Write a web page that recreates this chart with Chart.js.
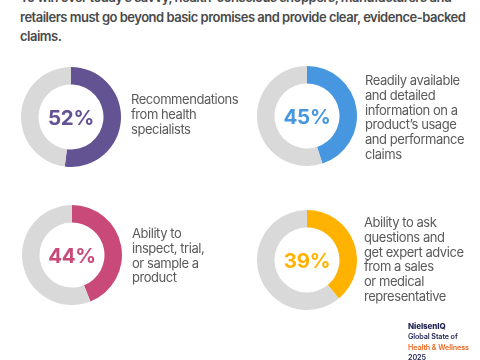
<!DOCTYPE html>
<html lang="en">
<head>
    <meta charset="UTF-8">
    <title>Health claims donuts</title>
    <script src="https://cdn.jsdelivr.net/npm/chart.js"></script>
    <style>
        * { box-sizing: border-box; margin: 0; padding: 0; }
        body {
            width: 480px;
            height: 360px;
            overflow: hidden;
            background: #fff;
            font-family: 'Inter', 'Noto Sans', sans-serif;
            position: relative;
        }
        .intro {
            position: absolute;
            left: 20px;
            top: -12px;
            font-size: 13px;
            font-weight: 600;
            letter-spacing: -0.5px;
            line-height: 19.5px;
            color: #4a4a4a;
            white-space: nowrap;
        }
        .donut {
            position: absolute;
            width: 100px;
            height: 100px;
        }
        .pct {
            position: absolute;
            left: 0; top: 0;
            width: 100px; height: 100px;
            display: flex;
            align-items: center;
            justify-content: center;
            font-size: 20.5px;
            font-weight: 700;
            letter-spacing: -0.3px;
        }
        .label {
            position: absolute;
            font-size: 13px;
            letter-spacing: -0.45px;
            line-height: 14.8px;
            color: #5a5a5a;
            transform: translateY(-50%);
            white-space: nowrap;
        }
        .logo {
            position: absolute;
            left: 408px;
            top: 321px;
            color: #1f2150;
            font-size: 7.2px;
            line-height: 10.3px;
            font-weight: 600;
            letter-spacing: -0.1px;
            white-space: nowrap;
        }
        .logo b { font-size: 8px; font-weight: 800; }
        .logo .hw { color: #f06a26; }
    </style>
</head>
<body>
    <div class="intro">
        To win over today’s savvy, health-conscious shoppers, manufacturers and<br>
        retailers must go beyond basic promises and provide clear, evidence-backed<br>
        claims.
    </div>

    <div id="charts"></div>

    <div class="logo">
        <b>NielsenIQ</b><br>
        Global State of<br>
        <span class="hw">Health &amp; Wellness</span><br>
        2025
    </div>

    <script>
        // values
        const shares = [52, 45, 44, 39];
        const colors = ['#635393', '#4696e0', '#c94a78', '#ffb300'];
        const labels = [
            ['Recommendations', 'from health', 'specialists'],
            ['Readily available', 'and detailed', 'information on a', 'product’s usage', 'and performance', 'claims'],
            ['Ability to', 'inspect, trial,', 'or sample a', 'product'],
            ['Ability to ask', 'questions and', 'get expert advice', 'from a sales', 'or medical', 'representative']
        ];
        const restColor = '#d9d9d9';

        // layout of the 2x2 grid
        const donutPos = [[21, 67], [257, 66], [22, 205], [257, 210]];
        const labelPos = [[131, 114], [365, 117], [132, 256], [364, 259]];

        const host = document.getElementById('charts');

        shares.forEach((v, i) => {
            const box = document.createElement('div');
            box.className = 'donut';
            box.style.left = donutPos[i][0] + 'px';
            box.style.top = donutPos[i][1] + 'px';
            const cv = document.createElement('canvas');
            cv.width = 100;
            cv.height = 100;
            box.appendChild(cv);
            const pct = document.createElement('div');
            pct.className = 'pct';
            pct.style.color = colors[i];
            pct.textContent = v + '%';
            box.appendChild(pct);
            host.appendChild(box);

            new Chart(cv, {
                type: 'doughnut',
                data: {
                    labels: ['share', 'rest'],
                    datasets: [{
                        data: [v, 100 - v],
                        backgroundColor: [colors[i], restColor],
                        borderWidth: 0,
                        hoverOffset: 0
                    }]
                },
                options: {
                    responsive: false,
                    animation: false,
                    cutout: '65%',
                    plugins: {
                        legend: { display: false },
                        tooltip: { enabled: false }
                    }
                }
            });

            const lab = document.createElement('div');
            lab.className = 'label';
            lab.style.left = labelPos[i][0] + 'px';
            lab.style.top = labelPos[i][1] + 'px';
            lab.innerHTML = labels[i].join('<br>');
            host.appendChild(lab);
        });
    </script>
</body>
</html>
